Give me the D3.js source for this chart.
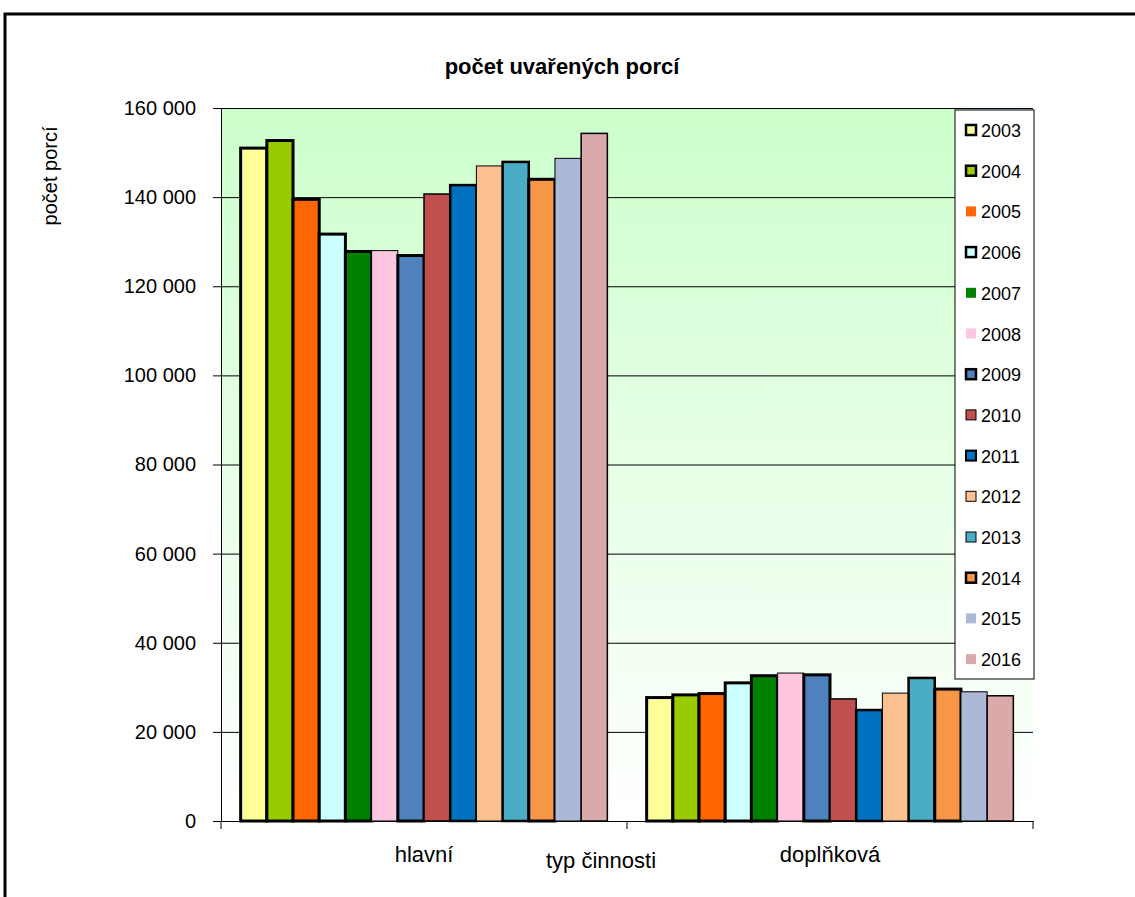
<!DOCTYPE html>
<html>
<head>
<meta charset="utf-8">
<script src="https://cdn.jsdelivr.net/npm/d3@7"></script>
<style>
  body { margin: 0; background: #fff; }
  text { font-family: "Liberation Sans", Arial, sans-serif; fill: #000; }
</style>
</head>
<body>
<div class="chart"></div>
<script>
const WIDTH = 1135;
const HEIGHT = 897;

// data
const categories = ["hlavní", "doplňková"];
const years = ["2003", "2004", "2005", "2006", "2007", "2008", "2009",
               "2010", "2011", "2012", "2013", "2014", "2015", "2016"];
const hlavni = [151000, 152700, 139500, 131700, 127800, 128000, 126900,
                140700, 142700, 147000, 147900, 144000, 148700, 154300];
const doplnkova = [27700, 28300, 28600, 31000, 32600, 33200, 32800,
                   27400, 24900, 28700, 32100, 29600, 29000, 28100];
const yTicks = [0, 20000, 40000, 60000, 80000, 100000, 120000, 140000, 160000];

// styles
const colors = ["#FFFF99", "#99CC00", "#FF6600", "#CCFFFF", "#008000", "#FFC6E0", "#4F81BD",
                "#C0504D", "#0070C0", "#FAC090", "#4BACC6", "#F79646", "#ABB9D7", "#DAAAAA"];
const barBorder = [3, 3, 3, 3, 3, 1, 3, 1.5, 2.5, 1, 2.5, 3, 1, 1.5];
const legendBorder = [2.5, 2.5, 0, 2.5, 0, 0, 2.5, 1, 2, 1, 1, 2.5, 0, 0];

const rows = [hlavni, doplnkova];

const PLOT = {left: 221, right: 1033, top: 108, bottom: 821};

var translate = function (x, y) {
    return "translate(" + x + "," + y + ")";
};

var fmt = d3.formatLocale({decimal: ",", thousands: " ", grouping: [3], currency: ["", ""]}).format(",d");

var svg = d3.select(".chart").append("svg")
    .attr("width", WIDTH)
    .attr("height", HEIGHT);

// outer frame
svg.append("path")
    .attr("d", "M5,897 L5,14 L1135,14")
    .attr("fill", "none")
    .attr("stroke", "#000")
    .attr("stroke-width", 3);

var yScale = d3.scaleLinear()
    .domain([0, 160000])
    .range([PLOT.bottom, PLOT.top]);

var x0 = d3.scaleBand()
    .domain(categories)
    .range([PLOT.left, PLOT.right])
    .paddingInner(0)
    .paddingOuter(0);

var x1 = d3.scaleBand()
    .domain(years)
    .range([0, x0.bandwidth()])
    .paddingInner(0)
    .paddingOuter(0.75);

// plot background
var grad = svg.append("defs").append("linearGradient")
    .attr("id", "bg")
    .attr("x1", 0).attr("y1", 0).attr("x2", 0).attr("y2", 1);
grad.append("stop").attr("offset", "0%").attr("stop-color", "#CCFFCC");
grad.append("stop").attr("offset", "100%").attr("stop-color", "#FFFFFF");

svg.append("rect")
    .attr("x", PLOT.left)
    .attr("y", PLOT.top)
    .attr("width", PLOT.right - PLOT.left)
    .attr("height", PLOT.bottom - PLOT.top)
    .attr("fill", "url(#bg)");

// y axis with gridlines
var yAxis = d3.axisLeft(yScale)
    .tickValues(yTicks)
    .tickFormat(fmt)
    .tickSizeInner(-(PLOT.right - PLOT.left))
    .tickSizeOuter(0)
    .tickPadding(17);

var yG = svg.append("g")
    .attr("transform", translate(PLOT.left, 0))
    .call(yAxis);
yG.selectAll(".tick line").attr("stroke", "#000");
yG.selectAll(".tick").append("line")
    .attr("x1", -8).attr("x2", 0)
    .attr("stroke", "#000");
yG.select(".domain").attr("stroke", "#000");
yG.selectAll(".tick text")
    .attr("x", -25)
    .style("font-size", "20px");

// bars
var groups = svg.selectAll(".cat")
    .data(categories)
    .enter()
    .append("g")
    .attr("class", "cat")
    .attr("transform", function (d) { return translate(x0(d), 0); });

groups.selectAll("rect")
    .data(function (d, ci) {
        return years.map(function (y, i) { return {year: y, i: i, value: rows[ci][i]}; });
    })
    .enter()
    .append("rect")
    .attr("x", function (d) { return x1(d.year); })
    .attr("y", function (d) { return yScale(d.value); })
    .attr("width", x1.bandwidth())
    .attr("height", function (d) { return PLOT.bottom - yScale(d.value); })
    .attr("fill", function (d) { return colors[d.i]; })
    .attr("stroke", "#000")
    .attr("stroke-width", function (d) { return barBorder[d.i]; });

// x axis
var xAxis = d3.axisBottom(x0)
    .tickSize(0)
    .tickPadding(25);

var xG = svg.append("g")
    .attr("transform", translate(0, PLOT.bottom))
    .call(xAxis);
xG.select(".domain").attr("stroke", "#000");
xG.selectAll(".tick text").style("font-size", "22px");

var edges = [x0.range()[0]].concat(categories.map(function (c) { return x0(c) + x0.bandwidth(); }));
xG.selectAll(".edge")
    .data(edges)
    .enter()
    .append("line")
    .attr("class", "edge")
    .attr("x1", function (d) { return d; })
    .attr("x2", function (d) { return d; })
    .attr("y1", 0)
    .attr("y2", 8)
    .attr("stroke", "#000");

// axis titles
svg.append("text")
    .attr("x", 601)
    .attr("y", 868)
    .attr("text-anchor", "middle")
    .style("font-size", "22px")
    .text("typ činnosti");

svg.append("text")
    .attr("transform", translate(57, 176) + " rotate(-90)")
    .attr("text-anchor", "middle")
    .style("font-size", "20px")
    .text("počet porcí");

svg.append("text")
    .attr("x", 562)
    .attr("y", 74)
    .attr("text-anchor", "middle")
    .style("font-size", "22px")
    .style("font-weight", "bold")
    .text("počet uvařených porcí");

// legend
var legend = svg.append("g").attr("transform", translate(955, 110));
legend.append("rect")
    .attr("width", 79)
    .attr("height", 569)
    .attr("fill", "#fff")
    .attr("stroke", "#000");

var item = legend.selectAll(".item")
    .data(years)
    .enter()
    .append("g")
    .attr("class", "item")
    .attr("transform", function (d, i) { return translate(0, 20 + i * 40.7); });

item.append("rect")
    .attr("x", 11)
    .attr("y", -5)
    .attr("width", 10)
    .attr("height", 10)
    .attr("fill", function (d, i) { return colors[i]; })
    .attr("stroke", "#000")
    .attr("stroke-width", function (d, i) { return legendBorder[i]; });

item.append("text")
    .attr("x", 26)
    .attr("y", 7)
    .style("font-size", "18px")
    .text(function (d) { return d; });
</script>
</body>
</html>
